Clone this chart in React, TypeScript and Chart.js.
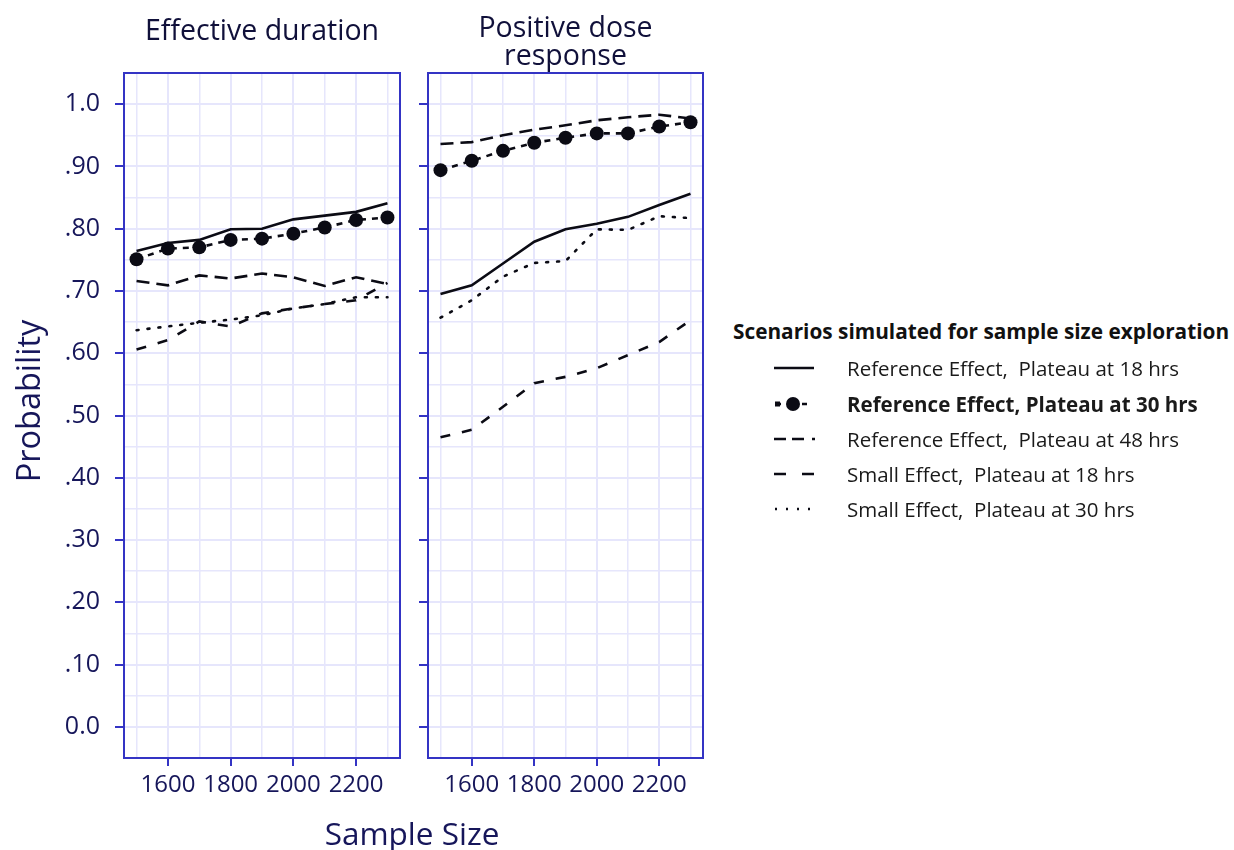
import React, { useEffect, useRef } from 'react';
import { Chart, registerables } from 'chart.js';
Chart.register(...registerables);

const FONT = "'Open Sans', sans-serif";
const NAVY = '#16165a';
const AXIS_BLUE = '#3434c4';
const GRID = '#e6e6fc';
const LINE = '#0b0b14';

const sampleSizes = [1500, 1600, 1700, 1800, 1900, 2000, 2100, 2200, 2300];
const xGridValues = [1500, 1600, 1700, 1800, 1900, 2000, 2100, 2200, 2300];
const yGridValues = [-0.05, 0, 0.05, 0.1, 0.15, 0.2, 0.25, 0.3, 0.35, 0.4, 0.45, 0.5, 0.55, 0.6, 0.65, 0.7, 0.75, 0.8, 0.85, 0.9, 0.95, 1.0, 1.05];
const yLabels: Record<string, string> = { '0': '0.0', '10': '.10', '20': '.20', '30': '.30', '40': '.40', '50': '.50', '60': '.60', '70': '.70', '80': '.80', '90': '.90', '100': '1.0' };

const panelTitles = [['Effective duration'], ['Positive dose', 'response']];
const seriesNames = [
  'Reference Effect,  Plateau at 18 hrs',
  'Reference Effect, Plateau at 30 hrs',
  'Reference Effect,  Plateau at 48 hrs',
  'Small Effect,  Plateau at 18 hrs',
  'Small Effect,  Plateau at 30 hrs',
];
const legendTitle = 'Scenarios simulated for sample size exploration';
const xAxisTitle = 'Sample Size';
const yAxisTitle = 'Probability';

// Effective duration panel
const durRef18 = [0.764, 0.777, 0.782, 0.799, 0.800, 0.815, 0.821, 0.827, 0.841];
const durRef30 = [0.751, 0.768, 0.770, 0.782, 0.784, 0.792, 0.802, 0.814, 0.818];
const durRef48 = [0.716, 0.709, 0.725, 0.720, 0.728, 0.722, 0.708, 0.722, 0.711];
const durSmall18 = [0.606, 0.621, 0.651, 0.643, 0.664, 0.672, 0.679, 0.685, 0.713];
const durSmall30 = [0.637, 0.643, 0.649, 0.654, 0.661, 0.672, 0.679, 0.690, 0.690];

// Positive dose response panel
const doseRef18 = [0.695, 0.709, 0.744, 0.779, 0.799, 0.808, 0.819, 0.838, 0.856];
const doseRef30 = [0.894, 0.909, 0.925, 0.938, 0.946, 0.953, 0.953, 0.964, 0.971];
const doseRef48 = [0.936, 0.939, 0.950, 0.959, 0.966, 0.974, 0.979, 0.983, 0.977];
const doseSmall18 = [0.465, 0.477, 0.514, 0.552, 0.562, 0.576, 0.597, 0.618, 0.653];
const doseSmall30 = [0.657, 0.685, 0.723, 0.745, 0.748, 0.799, 0.798, 0.820, 0.817];

const seriesStyles = [
  { dash: [], radius: 0 },
  { dash: [6, 6], radius: 7 },
  { dash: [13, 7], radius: 0 },
  { dash: [10, 12], radius: 0 },
  { dash: [2, 9], radius: 0 },
];

const toPts = (vals: number[]) => sampleSizes.map((x, i) => ({ x, y: vals[i] }));

const boxPlugin = {
  id: 'panelBox',
  beforeDatasetsDraw(chart: any) {
    const { ctx, chartArea: a } = chart;
    ctx.save();
    ctx.strokeStyle = AXIS_BLUE;
    ctx.lineWidth = 2;
    ctx.strokeRect(a.left, a.top, a.right - a.left, a.bottom - a.top);
    ctx.restore();
  },
};

function makeConfig(panel: number, series: number[][]): any {
  const isLeft = panel === 0;
  const nLines = panelTitles[panel].length;
  return {
    type: 'line',
    data: {
      datasets: series.map((vals, i) => ({
        label: seriesNames[i],
        data: toPts(vals),
        borderColor: LINE,
        backgroundColor: LINE,
        borderWidth: 2.6,
        borderDash: seriesStyles[i].dash,
        borderCapStyle: i === 4 ? 'round' : 'butt',
        pointRadius: seriesStyles[i].radius,
        pointHoverRadius: seriesStyles[i].radius,
        pointBackgroundColor: LINE,
        pointBorderWidth: 0,
        tension: 0,
        fill: false,
      })),
    },
    options: {
      responsive: false,
      animation: false,
      events: [],
      layout: { padding: { left: 0, right: isLeft ? 12 : 9, top: 0, bottom: 0 } },
      plugins: {
        legend: { display: false },
        tooltip: { enabled: false },
        title: {
          display: true,
          text: panelTitles[panel],
          fullSize: false,
          color: '#10103a',
          font: { family: FONT, size: 28.5, weight: 'normal', lineHeight: 1.0 },
          padding: nLines === 1 ? { top: 17.5, bottom: 27 } : { top: 14.5, bottom: 1.5 },
        },
      },
      scales: {
        x: {
          type: 'linear',
          min: 1460,
          max: 2340,
          afterBuildTicks: (s: any) => { s.ticks = xGridValues.map((v) => ({ value: v })); },
          afterFit: (s: any) => { s.height = 92; },
          border: { display: false },
          grid: {
            color: GRID,
            lineWidth: (c: any) => (c.tick && c.tick.value % 200 === 0 ? 2 : 1.5),
            tickColor: (c: any) => (c.tick && c.tick.value % 200 === 0 ? AXIS_BLUE : 'rgba(0,0,0,0)'),
            tickWidth: 2,
            tickLength: 8,
          },
          ticks: {
            autoSkip: false,
            maxRotation: 0,
            padding: 5,
            color: NAVY,
            font: { family: FONT, size: 24 },
            callback: (v: any) => (v % 200 === 0 ? String(v) : ''),
          },
        },
        y: {
          type: 'linear',
          min: -0.05,
          max: 1.05,
          afterBuildTicks: (s: any) => { s.ticks = yGridValues.map((v) => ({ value: v })); },
          afterFit: (s: any) => { s.width = isLeft ? 124 : 16; },
          border: { display: false },
          grid: {
            color: GRID,
            lineWidth: (c: any) => (c.tick && Math.round(c.tick.value * 100) % 10 === 0 ? 2 : 1.5),
            tickColor: (c: any) => {
              if (!c.tick) return 'rgba(0,0,0,0)';
              const k = Math.round(c.tick.value * 100);
              return k % 10 === 0 && k >= 0 && k <= 100 ? AXIS_BLUE : 'rgba(0,0,0,0)';
            },
            tickWidth: 2,
            tickLength: 9,
          },
          ticks: {
            display: isLeft,
            autoSkip: false,
            padding: 15,
            color: NAVY,
            font: { family: FONT, size: 25 },
            callback: (v: any) => yLabels[String(Math.round(v * 100))] || '',
          },
        },
      },
    },
    plugins: [boxPlugin],
  };
}

function Panel({ panel, series, left, width }: { panel: number; series: number[][]; left: number; width: number }) {
  const ref = useRef<HTMLCanvasElement | null>(null);
  useEffect(() => {
    if (!ref.current) return;
    const chart = new Chart(ref.current, makeConfig(panel, series));
    return () => chart.destroy();
  }, []);
  return (
    <canvas
      ref={ref}
      width={width}
      height={850}
      style={{ position: 'absolute', left, top: 0, width, height: 850, display: 'block' }}
    />
  );
}

function LegendSymbol({ index }: { index: number }) {
  const common = { stroke: LINE, strokeWidth: 2.6 } as any;
  let content: any = null;
  if (index === 0) content = <line x1={0} y1={10} x2={40} y2={10} {...common} />;
  if (index === 1)
    content = (
      <g>
        <line x1={2} y1={10} x2={40} y2={10} {...common} strokeDasharray="5 8" />
        <circle cx={19} cy={10} r={7} fill={LINE} />
        <rect x={1} y={7.5} width={5} height={5} fill={LINE} />
      </g>
    );
  if (index === 2) content = <line x1={0} y1={10} x2={42} y2={10} {...common} strokeDasharray="12 6 12 8 3 10" />;
  if (index === 3) content = <line x1={0} y1={10} x2={40} y2={10} {...common} strokeDasharray="12 16" />;
  if (index === 4) content = <line x1={1} y1={10} x2={42} y2={10} {...common} strokeDasharray="2 9" />;
  return (
    <svg width={44} height={20} style={{ position: 'absolute', left: 774, display: 'block' }}>
      {content}
    </svg>
  );
}

export default function App() {
  useEffect(() => {
    document.body.style.margin = '0';
    document.body.style.background = '#ffffff';
  }, []);
  const rowCenters = [368, 404, 439, 474, 509];
  return (
    <div style={{ position: 'relative', width: 1234, height: 850, background: '#fff', overflow: 'hidden', fontFamily: FONT }}>
      <Panel panel={0} series={[durRef18, durRef30, durRef48, durSmall18, durSmall30]} left={0} width={412} />
      <Panel panel={1} series={[doseRef18, doseRef30, doseRef48, doseSmall18, doseSmall30]} left={412} width={300} />
      <div
        style={{ position: 'absolute', left: 262, width: 300, top: 812, height: 42, lineHeight: '42px', textAlign: 'center', fontSize: 31.5, color: NAVY }}
      >
        {xAxisTitle}
      </div>
      <div
        style={{ position: 'absolute', left: 28 - 110, top: 401 - 21, width: 220, height: 42, lineHeight: '42px', textAlign: 'center', fontSize: 32.5, color: NAVY, transform: 'rotate(-90deg)' }}
      >
        {yAxisTitle}
      </div>
      <div
        style={{ position: 'absolute', left: 733, top: 316, height: 30, lineHeight: '30px', fontSize: 20.8, fontWeight: 700, color: '#111', whiteSpace: 'nowrap' }}
      >
        {legendTitle}
      </div>
      {seriesNames.map((name, i) => (
        <div key={i} style={{ position: 'absolute', left: 0, top: rowCenters[i] - 10, height: 20, width: 1234 }}>
          <LegendSymbol index={i} />
          <div
            style={{ position: 'absolute', left: 847, top: -5, height: 30, lineHeight: '30px', fontSize: 20.5, fontWeight: i === 1 ? 700 : 400, color: '#1a1a1a', whiteSpace: 'pre' }}
          >
            {name}
          </div>
        </div>
      ))}
    </div>
  );
}
